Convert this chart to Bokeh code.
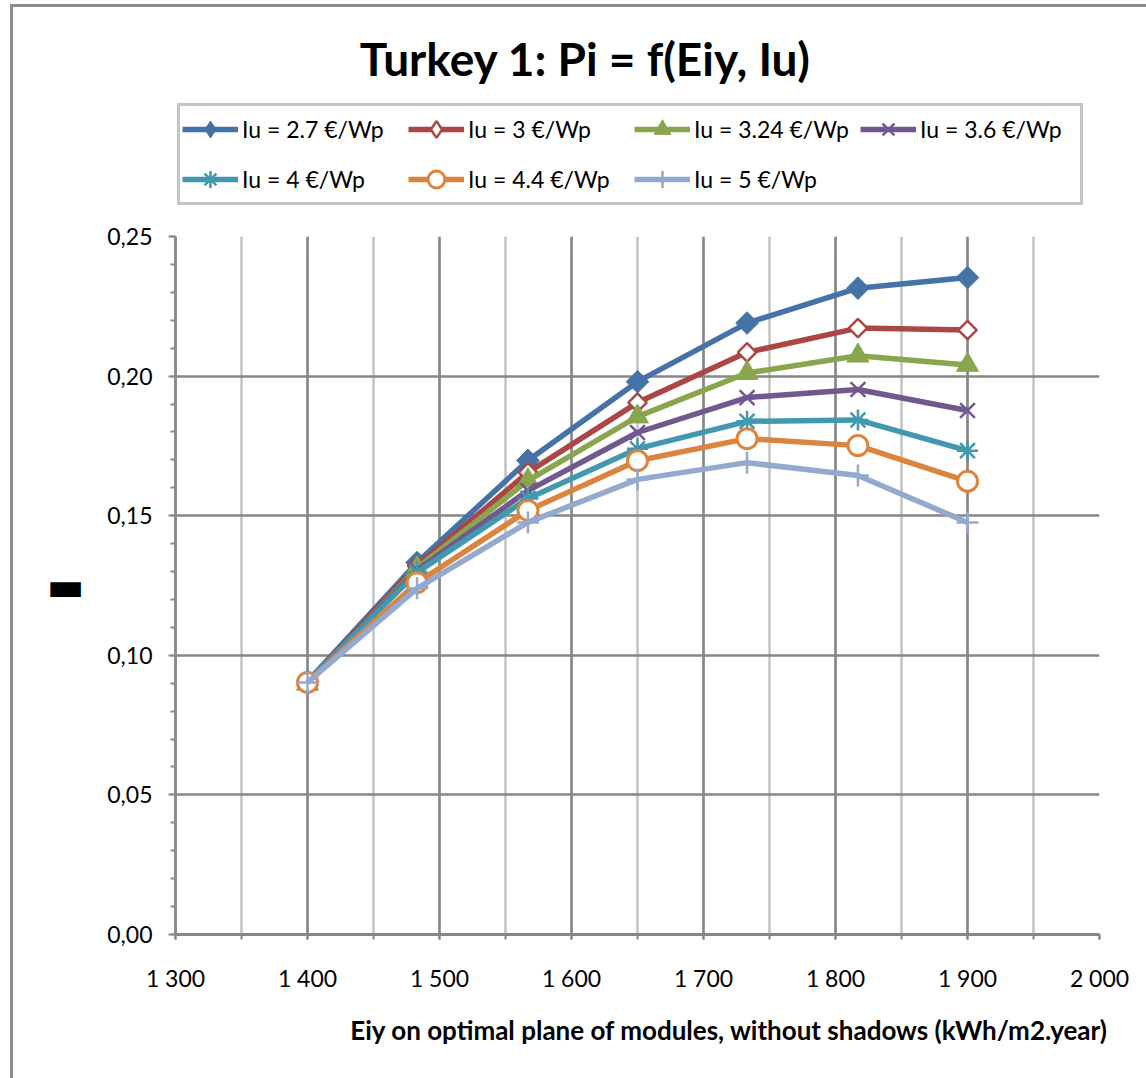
from bokeh.plotting import figure
from bokeh.layouts import column
from bokeh.models import (FixedTicker, CustomJSTickFormatter, Legend, LegendItem,
                          Title, Label, LinearAxis)
from bokeh.embed import file_html
from bokeh.resources import INLINE

# ---- data ----
eiy = [1400, 1483, 1567, 1650, 1733, 1817, 1900]
pi_iu_27 = [0.0906, 0.1332, 0.1698, 0.1980, 0.2190, 0.2315, 0.2353]
pi_iu_30 = [0.0903, 0.1320, 0.1655, 0.1905, 0.2085, 0.2172, 0.2165]
pi_iu_324 = [0.0898, 0.1312, 0.1626, 0.1855, 0.2011, 0.2073, 0.2040]
pi_iu_36 = [0.0903, 0.1305, 0.1590, 0.1798, 0.1923, 0.1952, 0.1877]
pi_iu_40 = [0.0906, 0.1297, 0.1562, 0.1740, 0.1838, 0.1843, 0.1733]
pi_iu_44 = [0.0903, 0.1260, 0.1519, 0.1697, 0.1776, 0.1751, 0.1623]
pi_iu_50 = [0.0903, 0.1240, 0.1476, 0.1630, 0.1690, 0.1644, 0.1476]
series_labels = ["Iu = 2.7 €/Wp", "Iu = 3 €/Wp", "Iu = 3.24 €/Wp", "Iu = 3.6 €/Wp",
                 "Iu = 4 €/Wp", "Iu = 4.4 €/Wp", "Iu = 5 €/Wp"]
x_ticks = [1300, 1400, 1500, 1600, 1700, 1800, 1900, 2000]
x_minor = [1300 + 50 * i for i in range(15)]
y_ticks = [0.0, 0.05, 0.10, 0.15, 0.20, 0.25]
y_minor = [round(0.01 * i, 2) for i in range(26)]

title_text = "Turkey 1: Pi = f(Eiy, Iu)"
x_title = "Eiy on optimal plane of modules, without shadows (kWh/m2.year)"
y_title = "▬"

FONT = "Lato"
series = [pi_iu_27, pi_iu_30, pi_iu_324, pi_iu_36, pi_iu_40, pi_iu_44, pi_iu_50]
colors = ["#4572A7", "#AA4643", "#89A54E", "#71588F", "#4198AF", "#DB843D", "#93A9CF"]
markers = [
    dict(marker="square", angle=0.785398, fill_color="#4572A7", size=16, line_width=1),
    dict(marker="square", angle=0.785398, fill_color="white", size=13, line_width=2.5),
    dict(marker="triangle", fill_color="#89A54E", size=22, line_width=1),
    dict(marker="x", fill_color=None, size=21, line_width=2.5),
    dict(marker="asterisk", fill_color=None, size=21, line_width=2.5),
    dict(marker="circle", fill_color="white", size=20, line_width=3),
    dict(marker="cross", fill_color=None, size=22, line_width=2.5),
]
legend_markers = [dict(m) for m in markers]
legend_markers[0].update(marker="diamond", angle=0, size=24)
legend_markers[1].update(marker="diamond", angle=0, size=22)

# ---------------- header figure: title + legend ----------------
top = figure(title=None, width=1133, height=214,
             min_border_left=0, min_border_right=0, min_border_top=0, min_border_bottom=0,
             x_range=(0, 1), y_range=(0, 1), x_axis_location=None, y_axis_location=None,
             output_backend="svg", toolbar_location=None,
             background_fill_color="white", border_fill_color="white")
top.outline_line_color = None
top.grid.visible = False

items = []
for vals, col, mk, lab in zip(series, colors, legend_markers, series_labels):
    r1 = top.line(eiy, vals, line_color=col, line_width=5.5, line_join="round")
    r2 = top.scatter(eiy, vals, line_color=col, **mk)
    items.append(LegendItem(label=lab, renderers=[r1, r2]))

legend = Legend(items=items, ncols=4, orientation="horizontal",
                location=(2, 16),
                glyph_width=56, glyph_height=42, label_standoff=4, label_width=158,
                spacing=8, padding=2, margin=0,
                border_line_color="#8c8c8c", border_line_width=3,
                background_fill_color="white", background_fill_alpha=1,
                label_text_font=FONT, label_text_font_size="23px",
                label_text_color="black")
top.add_layout(legend, "center")
top.add_layout(Label(x=410, y=163, x_units="screen", y_units="screen", text=title_text,
                     text_align="center", text_baseline="middle", text_font=FONT,
                     text_font_size="46px", text_font_style="bold", text_color="black"))

# ---------------- main chart ----------------
p = figure(title=None, frame_width=924, frame_height=698,
           min_border_left=162, min_border_right=47,
           min_border_top=15, min_border_bottom=144,
           x_range=(1300, 2000), y_range=(0, 0.25),
           output_backend="svg", toolbar_location=None,
           background_fill_color="white", border_fill_color="white")
p.outline_line_color = None

for vals, col, mk in zip(series, colors, markers):
    p.line(eiy, vals, line_color=col, line_width=5.5, line_join="round")
    p.scatter(eiy, vals, line_color=col, **mk)

p.add_layout(Title(text=x_title, align="right", offset=-9, standoff=34,
                   text_font=FONT, text_font_size="26px", text_font_style="bold",
                   text_color="black"), "below")

xa = p.xaxis[0]
xa.ticker = FixedTicker(ticks=x_ticks, minor_ticks=x_minor)
xa.formatter = CustomJSTickFormatter(code="return tick.toFixed(0).replace(/\\B(?=(\\d{3})+(?!\\d))/g, '\\u00a0');")
xa.axis_line_color = "#868686"
xa.axis_line_width = 3
xa.major_tick_line_color = "#868686"
xa.minor_tick_line_color = "#868686"
xa.major_tick_line_width = 2
xa.minor_tick_line_width = 2
xa.major_tick_in = 0
xa.minor_tick_in = 0
xa.major_tick_out = 5
xa.minor_tick_out = 5
xa.major_label_standoff = 24
xa.major_label_text_font = FONT
xa.major_label_text_font_size = "23px"
xa.major_label_text_color = "black"

ya = p.yaxis[0]
ya.ticker = FixedTicker(ticks=y_ticks, minor_ticks=y_minor)
ya.formatter = CustomJSTickFormatter(code="return tick.toFixed(2).replace('.', ',');")
ya.axis_line_color = "#8c8c8c"
ya.axis_line_width = 3
ya.major_tick_line_color = "#8c8c8c"
ya.minor_tick_line_color = "#8c8c8c"
ya.major_tick_line_width = 2
ya.minor_tick_line_width = 2
ya.major_tick_in = 0
ya.minor_tick_in = 0
ya.major_tick_out = 7
ya.minor_tick_out = 5
ya.major_label_standoff = 16
ya.major_label_text_font = FONT
ya.major_label_text_font_size = "23px"
ya.major_label_text_color = "black"

# label-only axis carrying the (garbled) y title
ya2 = LinearAxis(ticker=FixedTicker(ticks=[]),
                 axis_line_color=None, major_tick_line_color=None, minor_tick_line_color=None,
                 major_tick_out=0, minor_tick_out=0, major_label_standoff=0,
                 axis_label=y_title, axis_label_orientation="horizontal",
                 axis_label_standoff=20, axis_label_text_font="DejaVu Sans",
                 axis_label_text_font_size="40px", axis_label_text_font_style="bold",
                 axis_label_text_color="black")
p.add_layout(ya2, "left")

p.xgrid.grid_line_color = "#878787"
p.xgrid.grid_line_width = 2.5
p.xgrid.minor_grid_line_color = "#c3c3c3"
p.xgrid.minor_grid_line_width = 2.5
p.ygrid.grid_line_color = "#878787"
p.ygrid.grid_line_width = 2.5

layout = column(top, p, spacing=0)
layout.styles = {"border-left": "3px solid #8c8c8c", "border-top": "3px solid #8c8c8c",
                 "margin-left": "10px", "margin-top": "4px"}

open("out.html", "w").write(file_html(layout, INLINE))
